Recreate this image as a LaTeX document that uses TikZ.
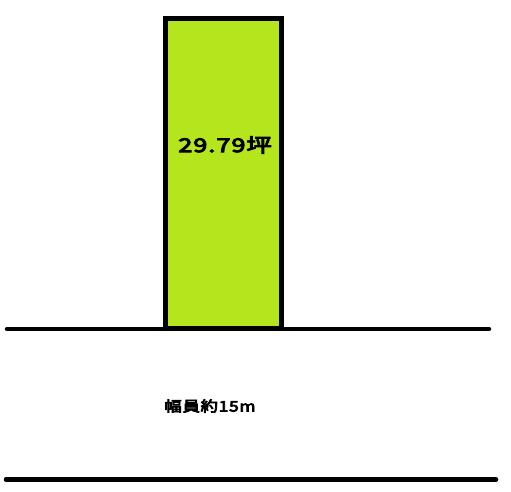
\documentclass[tikz,border=0pt]{standalone}
\usepackage{fontspec}
\newfontfamily\jpfont{Noto Sans CJK JP}[AutoFakeBold=4.5, LetterSpace=4]
\usetikzlibrary{positioning}
\definecolor{lotGreen}{RGB}{181,230,29}
\tikzstyle{lotBox} = [rectangle, draw=black, fill=lotGreen, line width=5pt, minimum width=116pt, minimum height=309pt, inner sep=0pt]
\tikzstyle{areaLabel} = [font=\jpfont\bfseries\fontsize{19}{19}\selectfont, inner sep=0pt]
\tikzstyle{widthLabel} = [font=\jpfont\bfseries\fontsize{14.5}{14.5}\selectfont, inner sep=0pt]
\tikzstyle{roadLine} = [line width=4.5pt, line cap=round]

\begin{document}
\begin{tikzpicture}[x=1pt, y=-1pt]
    \useasboundingbox (0,0) rectangle (511,492);
    \node (lot) [lotBox] at (223,173.5) {};
    \node (area) [areaLabel] at (225,145) {\scalebox{1.33}[1]{29.79坪}};
    \node (roadWidth) [widthLabel] at (210,406) {\scalebox{1.2}[1]{幅員約15m}};
    \coordinate (roadTopL) at (7,329);
    \coordinate (roadTopR) at (489,329);
    \coordinate (roadBotL) at (6,479.5);
    \coordinate (roadBotR) at (496,479.5);

    \draw [roadLine] (roadTopL) -- (roadTopR);
    \draw [roadLine] (roadBotL) -- (roadBotR);
\end{tikzpicture}
\end{document}
